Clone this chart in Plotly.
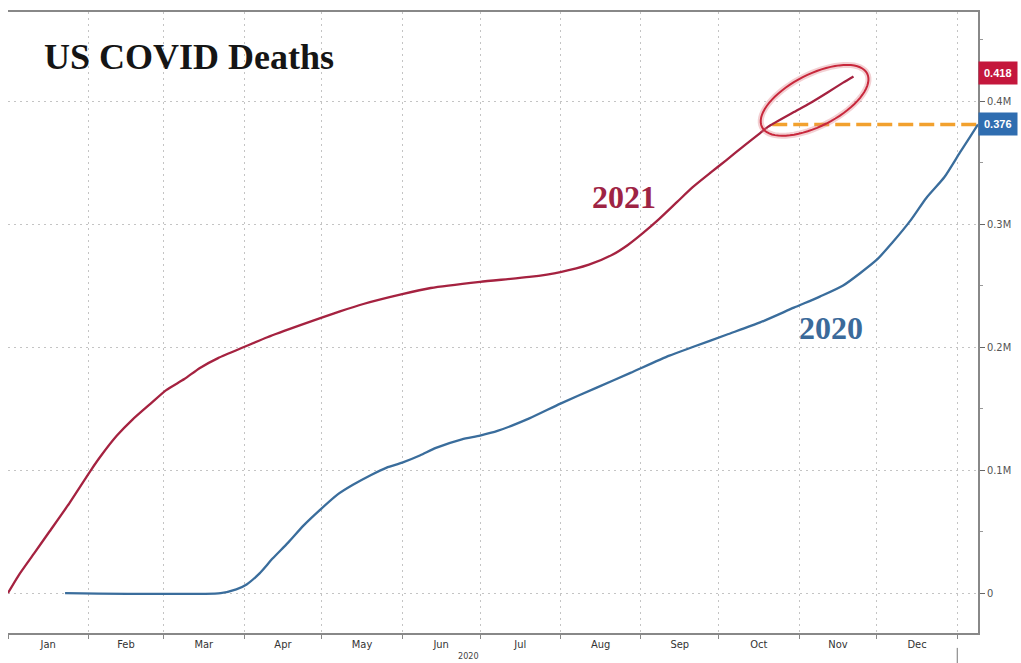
import numpy as np
import plotly.graph_objects as go

# ---- data (x = day of year, y = cumulative deaths in millions) ----
days_2021 = [0, 4, 10, 16, 23, 32, 36, 42, 48, 55, 61, 68, 74, 81, 91, 100, 113, 128, 137,
             152, 163, 182, 201, 213, 224, 233, 239, 245, 251, 258, 264, 271, 277, 284, 290,
             293, 303, 309, 316, 322, 326]
deaths_2021 = [0.0, 0.014, 0.032, 0.050, 0.071, 0.100, 0.112, 0.128, 0.141, 0.154, 0.165,
               0.174, 0.183, 0.191, 0.200, 0.208, 0.218, 0.229, 0.235, 0.243, 0.248, 0.253,
               0.257, 0.261, 0.267, 0.275, 0.283, 0.293, 0.304, 0.318, 0.330, 0.342, 0.352,
               0.364, 0.374, 0.379, 0.391, 0.398, 0.407, 0.415, 0.420]

days_2020 = [22, 82, 88, 92, 97, 102, 108, 114, 120, 127, 133, 140, 146, 152, 159, 165, 175,
             182, 189, 201, 213, 227, 240, 255, 264, 277, 290, 303, 313, 322, 335, 341, 348,
             354, 361, 367, 371, 374]
deaths_2020 = [0.0, 0.0, 0.003, 0.007, 0.016, 0.028, 0.041, 0.055, 0.067, 0.080, 0.088, 0.096,
               0.102, 0.106, 0.112, 0.118, 0.125, 0.128, 0.132, 0.142, 0.154, 0.167, 0.179,
               0.193, 0.200, 0.210, 0.220, 0.232, 0.241, 0.250, 0.271, 0.285, 0.303, 0.321,
               0.338, 0.358, 0.371, 0.381]

last_labels = ["0.418", "0.376"]

month_names = ["Jan", "Feb", "Mar", "Apr", "May", "Jun", "Jul", "Aug", "Sep", "Oct", "Nov", "Dec"]
month_starts = [0, 31, 60, 91, 121, 152, 182, 213, 244, 274, 305, 335, 366]
y_ticks = [0, 0.1, 0.2, 0.3, 0.4]
y_tick_text = ["0", "0.1M", "0.2M", "0.3M", "0.4M"]

RED = "#a52240"
BLUE = "#3a6d9c"
ORANGE = "#f2a12e"

W, H = 1021, 663
ML, MR, MT, MB = 8, 43, 12, 30
x_range = [0, 374]
y_range = [-0.0325, 0.4724]
pw, ph = W - ML - MR, H - MT - MB
px_per_x = pw / (x_range[1] - x_range[0])
px_per_y = ph / (y_range[1] - y_range[0])

month_mids = [(month_starts[i] + month_starts[i + 1]) / 2 for i in range(12)]

fig = go.Figure()

# orange dashed comparison line: from where 2021 crossed the 2020 final level to the axis
level = deaths_2020[-1]
cross_day = float(np.interp(level, deaths_2021, days_2021))
fig.add_trace(go.Scatter(x=[cross_day, x_range[1]], y=[level, level], mode="lines",
                         line=dict(color=ORANGE, width=3.5, dash="15px,6px"),
                         hoverinfo="skip", showlegend=False))

fig.add_trace(go.Scatter(x=days_2020, y=deaths_2020, mode="lines",
                         line=dict(color=BLUE, width=2.3, shape="spline", smoothing=0.6),
                         showlegend=False, name="2020"))
fig.add_trace(go.Scatter(x=days_2021, y=deaths_2021, mode="lines",
                         line=dict(color=RED, width=2.3, shape="spline", smoothing=0.6),
                         showlegend=False, name="2021"))

# highlight ellipse around the latest part of the 2021 line
c_day = 311
c_val = float(np.interp(c_day, days_2021, deaths_2021))
a_px, b_px, theta = 59, 26, np.deg2rad(27)
t = np.linspace(0, 2 * np.pi, 73)
ex = a_px * np.cos(t) * np.cos(theta) - b_px * np.sin(t) * np.sin(theta)
ey = a_px * np.cos(t) * np.sin(theta) + b_px * np.sin(t) * np.cos(theta)
xs = c_day + ex / px_per_x
ys = c_val + ey / px_per_y
path = "M " + " L ".join(f"{x:.3f},{y:.5f}" for x, y in zip(xs, ys)) + " Z"
fig.add_shape(type="path", path=path, xref="x", yref="y",
              line=dict(color="rgba(220,120,130,0.35)", width=6))
fig.add_shape(type="path", path=path, xref="x", yref="y",
              line=dict(color="#c8283c", width=2))

# year boundary mark under the axis
fig.add_shape(type="line", xref="x", yref="paper", x0=366, x1=366, y0=-0.024, y1=-0.06,
              line=dict(color="#777", width=1))

# title and series labels
fig.add_annotation(text="<b>US COVID Deaths</b>", xref="paper", yref="paper",
                   x=(42 - ML) / pw, y=1 - (57 - MT) / ph, xanchor="left", yanchor="middle",
                   showarrow=False, font=dict(family="Liberation Serif", size=36, color="#151515"))
fig.add_annotation(text="<b>2021</b>", xref="x", yref="y", x=(624 - ML) / px_per_x,
                   y=y_range[1] - (197 - MT) / px_per_y, showarrow=False,
                   font=dict(family="Liberation Serif", size=32, color="#9e2444"))
fig.add_annotation(text="<b>2020</b>", xref="x", yref="y", x=(831 - ML) / px_per_x,
                   y=y_range[1] - (328 - MT) / px_per_y, showarrow=False,
                   font=dict(family="Liberation Serif", size=32, color="#3b6a9a"))

# last value tags
fig.add_annotation(text="<b>" + last_labels[0] + "</b>", xref="paper", yref="y", x=1.0,
                   y=deaths_2021[-1] + 0.003, xanchor="left", yanchor="middle", showarrow=False,
                   bgcolor="#c4173c", borderpad=5,
                   font=dict(family="Liberation Sans", size=11, color="white"))
fig.add_annotation(text="<b>" + last_labels[1] + "</b>", xref="paper", yref="y", x=1.0,
                   y=deaths_2020[-1], xanchor="left", yanchor="middle", showarrow=False,
                   bgcolor="#2f6db0", borderpad=5,
                   font=dict(family="Liberation Sans", size=11, color="white"))

# "2020" year label under months
fig.add_annotation(text="2020", xref="x", yref="paper", x=(468 - ML) / px_per_x,
                   y=-(656 - (H - MB)) / ph, yanchor="middle", showarrow=False,
                   font=dict(family="DejaVu Sans Condensed, Liberation Sans", size=9, color="#444"))

fig.update_layout(
    width=W, height=H, margin=dict(l=ML, r=MR, t=MT, b=MB),
    paper_bgcolor="white", plot_bgcolor="white",
    showlegend=False,
    xaxis=dict(range=x_range, tickmode="array", tickvals=month_mids, ticktext=month_names,
               ticks="", showgrid=False, zeroline=False,
               showline=True, linecolor="#888", linewidth=1.5, mirror=True,
               tickfont=dict(family="DejaVu Sans Condensed, Liberation Sans", size=11, color="#333"),
               minor=dict(tickmode="array", tickvals=month_starts, ticks="outside", ticklen=4,
                          tickcolor="#888", showgrid=True, gridcolor="#c4c4c4",
                          griddash="2px,4px", gridwidth=1)),
    yaxis=dict(range=y_range, side="right", tickmode="array", tickvals=y_ticks,
               ticktext=y_tick_text, ticks="outside", ticklen=5, tickcolor="#666",
               showgrid=True, gridcolor="#c4c4c4", griddash="2px,4px", gridwidth=1,
               zeroline=False, showline=True, linecolor="#888", linewidth=1.5,
               tickfont=dict(family="DejaVu Sans Condensed, Liberation Sans", size=11, color="#555"),
               minor=dict(dtick=0.05, ticks="outside", ticklen=3, tickcolor="#999", showgrid=False)),
)

fig.write_html("out.html", config={"displayModeBar": False},
               post_script="document.body.style.margin='0';document.body.style.overflow='hidden';")
